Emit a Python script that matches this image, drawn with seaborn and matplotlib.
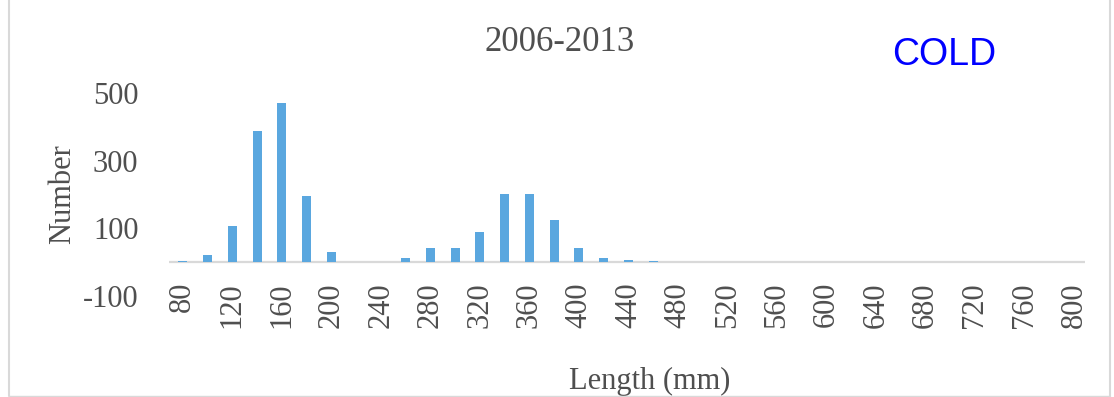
import matplotlib
matplotlib.use("Agg")
import matplotlib.pyplot as plt
from matplotlib.lines import Line2D
import seaborn as sns
import pandas as pd

# Length classes (mm) and fish counts per class
lengths = [80, 100, 120, 140, 160, 180, 200, 220, 240, 260, 280, 300, 320, 340,
           360, 380, 400, 420, 440, 460, 480, 500, 520, 540, 560, 580, 600, 620,
           640, 660, 680, 700, 720, 740, 760, 780, 800]
counts = [2, 20, 107, 389, 471, 195, 31, 1, 1, 13, 42, 42, 89, 201,
          201, 125, 42, 13, 7, 2, 0, 1, 1, 1, 0, 0, 1, 0,
          1, 0, 0, 0, 1, 0, 0, 1, 0]
y_ticks = [-100, 100, 300, 500]

title = "2006-2013"
season = "COLD"

df = pd.DataFrame({"Length": [str(v) for v in lengths], "Number": counts})

sns.set_theme(style="white")
plt.rcParams["font.family"] = ["Liberation Serif", "DejaVu Serif"]

text_gray = "#4F4F4F"
bar_blue = "#5AA7DF"

fig = plt.figure(figsize=(11.14, 3.97), dpi=100)
ax = fig.add_axes([0.1517, 0.2544, 0.8223, 0.5113])

sns.barplot(data=df, x="Length", y="Number", order=df["Length"],
            color=bar_blue, width=0.36, saturation=1, ax=ax, zorder=3,
            edgecolor="none", linewidth=0)

ax.axhline(0, color="#D9D9D9", lw=1.6, zorder=2)

ax.set_xlim(-0.56, 36.45)
ax.set_ylim(-100, 500)
ax.set_yticks(y_ticks)
ax.set_yticklabels([str(v) for v in y_ticks])

tick_idx = list(range(0, len(lengths), 2))
ax.set_xticks(tick_idx)
ax.set_xticklabels([str(lengths[i]) for i in tick_idx], rotation=90)

for s in ax.spines.values():
    s.set_visible(False)

ax.tick_params(axis="y", length=0, pad=22, labelsize=22, labelcolor=text_gray)
ax.tick_params(axis="x", length=0, pad=-10, labelsize=22, labelcolor=text_gray)

ax.set_xlabel("Length (mm)", fontsize=22, color=text_gray)
ax.xaxis.set_label_coords(0.525, -0.35)
ax.set_ylabel("Number", fontsize=22, color=text_gray, labelpad=4)

fig.text(0.502, 0.893, title, ha="center", va="center", fontsize=25,
         color=text_gray)
fig.text(0.848, 0.862, season, ha="center", va="center", fontsize=27,
         color="#0000FF", family=["Liberation Sans", "DejaVu Sans"])

# light frame around the chart area
frame = "#D9D9D9"
fig.add_artist(Line2D([9 / 1114, 9 / 1114], [0.003, 1], color=frame, lw=1.5,
                      transform=fig.transFigure))
fig.add_artist(Line2D([1110 / 1114, 1110 / 1114], [0.003, 1], color=frame,
                      lw=1.5, transform=fig.transFigure))
fig.add_artist(Line2D([9 / 1114, 1110 / 1114], [0.003, 0.003], color=frame,
                      lw=1.0, transform=fig.transFigure))

fig.savefig("out.png", dpi=100, facecolor="white")
